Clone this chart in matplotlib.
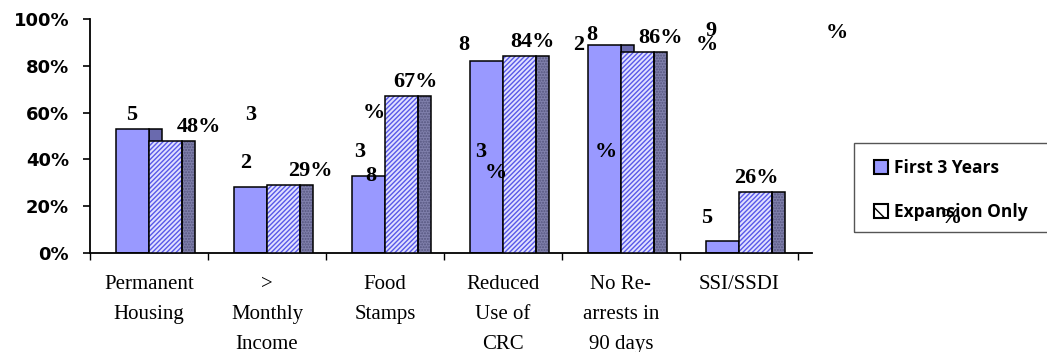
import matplotlib.pyplot as plt
import numpy as np
from matplotlib.patches import Patch, Rectangle

# Data
categories = ["Permanent\nHousing", ">\nMonthly\nIncome", "Food\nStamps",
              "Reduced\nUse of\nCRC", "No Re-\narrests in\n90 days", "SSI/SSDI"]
first_3_years = [53, 28, 33, 82, 89, 5]
expansion_only = [48, 29, 67, 84, 86, 26]
expansion_labels = ["48%", "29%", "67%", "84%", "86%", "26%"]
y_ticks = [0, 20, 40, 60, 80, 100]

# broken-up labels of the first series (text, x, y in data units)
label_bits = [
    ("5", -0.15, 59), ("3", 0.86, 59), ("2", 0.82, 38.5),
    ("3", 1.79, 43), ("8", 1.88, 33), ("%", 1.91, 60),
    ("8", 2.67, 89), ("3", 2.81, 43), ("%", 2.94, 34),
    ("2", 3.64, 89), ("8", 3.75, 93), ("%", 3.87, 43),
    ("9", 4.76, 95), ("%", 4.73, 89), ("%", 5.83, 94),
    ("5", 4.73, 15), ("%", 6.80, 15),
]
label_dx = [0.42, 0.37, 0.26, 0.25, 0.34, 0.15]

serif = "Liberation Serif"
x = np.arange(len(categories))
w = 0.28
depth = 0.11

fig = plt.figure(figsize=(10.47, 3.52), dpi=100)
ax = fig.add_axes([90 / 1047, 99 / 352, 722 / 1047, 234 / 352])

# Bars with a flat dark side panel for the 3D look
ax.bar(x, first_3_years, depth, align='edge', color='#6A6AAE', edgecolor='black', linewidth=1.1, zorder=1)
ax.bar(x - w, first_3_years, w, align='edge', color='#9999FF', edgecolor='black', linewidth=1.1, zorder=2)
ax.bar(x + w, expansion_only, depth, align='edge', color='#8080AC', edgecolor='#55557E',
       hatch='......', linewidth=0, zorder=3)
ax.bar(x + w, expansion_only, depth, align='edge', fill=False, edgecolor='black', linewidth=1.1, zorder=4)
ax.bar(x, expansion_only, w, align='edge', color='#E0E0FF', edgecolor='#5858E8',
       hatch='///////', linewidth=0, zorder=3)
ax.bar(x, expansion_only, w, align='edge', fill=False, edgecolor='black', linewidth=1.1, zorder=4)

for i, v in enumerate(expansion_only):
    ax.annotate(expansion_labels[i], (x[i] + label_dx[i], v), xytext=(0, 3), textcoords='offset points',
                ha='center', va='bottom', fontsize=16, fontweight='bold', family=serif, zorder=5)

for t, tx, ty in label_bits:
    ax.text(tx, ty, t, ha='center', va='center', fontsize=16, fontweight='bold', family=serif,
            clip_on=False, zorder=6)

# Axes
ax.set_xlim(-0.5, 5.62)
ax.set_ylim(0, 100)
ax.spines['top'].set_visible(False)
ax.spines['right'].set_visible(False)
ax.spines['left'].set_linewidth(1.3)
ax.spines['bottom'].set_linewidth(1.3)
ax.set_yticks(y_ticks)
ax.set_yticklabels([f"{t}%" for t in y_ticks], fontsize=13, fontweight='bold', family='DejaVu Sans')
ax.tick_params(axis='y', length=5, width=1.2, pad=10)
ax.set_xticks(np.arange(-0.5, 6, 1))
ax.set_xticklabels([])
ax.tick_params(axis='x', which='major', length=5, width=1)
ax.set_xticks(x, minor=True)
ax.set_xticklabels(categories, minor=True, fontsize=15, family=serif, linespacing=1.8)
ax.tick_params(axis='x', which='minor', length=0, pad=15.5)

# Legend
fig.patches.append(Rectangle((854 / 1047, 120 / 352), 0.2, 89 / 352, transform=fig.transFigure,
                             fill=False, edgecolor='#555555', linewidth=1))
handles = [Patch(facecolor='#9999FF', edgecolor='black', linewidth=1.5),
           Patch(facecolor='white', edgecolor='#3030C0', hatch='\\\\', linewidth=1.5)]
leg = fig.legend(handles, ["First 3 Years", "Expansion Only"], loc='upper left',
                 bbox_to_anchor=(858 / 1047, 1 - 143 / 352), frameon=False,
                 prop={'family': 'Open Sans', 'weight': 'bold', 'size': 12.5},
                 handlelength=0.85, handleheight=0.85, handletextpad=0.3, labelspacing=1.5)
for h in leg.legend_handles:
    h.set_edgecolor('black')

plt.savefig("out.png", dpi=100)
